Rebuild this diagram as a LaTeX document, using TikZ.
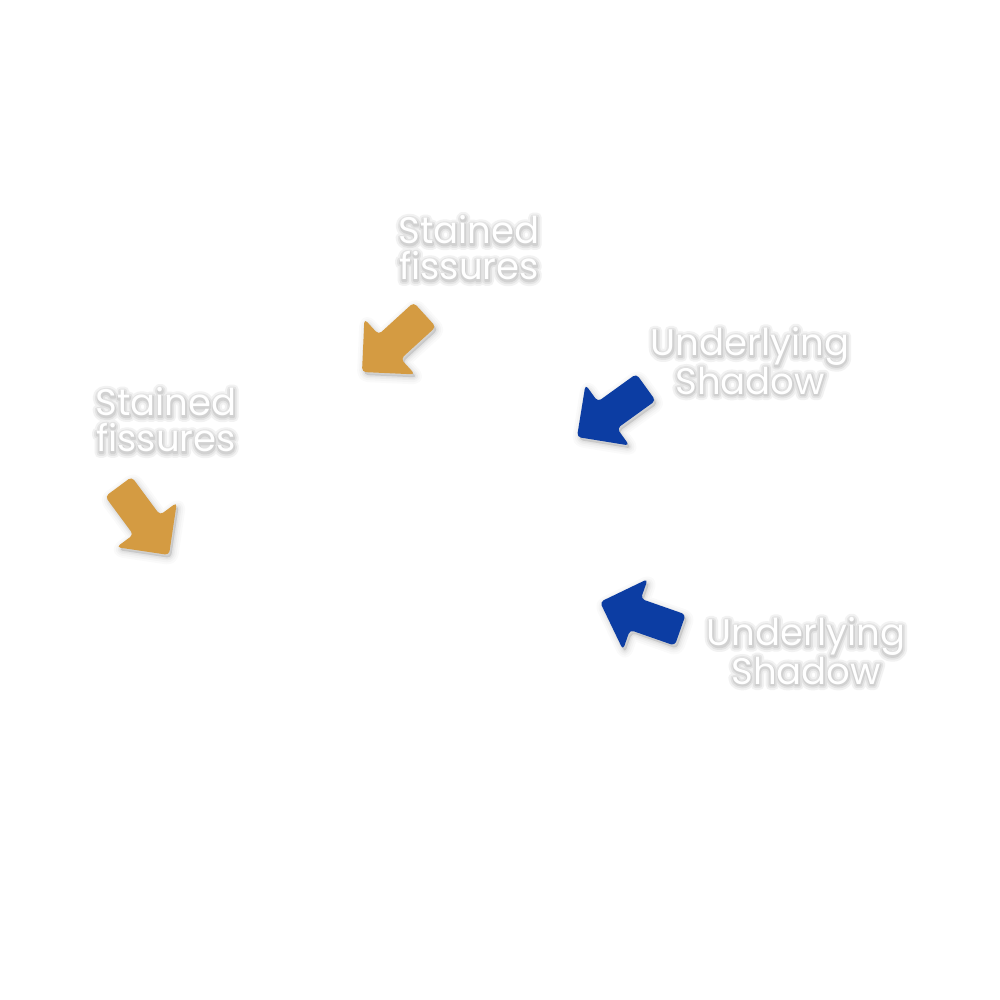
\documentclass[tikz,border=0pt]{standalone}
\usepackage{fontspec}
\setmainfont{Poppins}
\definecolor{orng}{RGB}{212,155,66}
\definecolor{blu}{RGB}{12,61,163}
\definecolor{gA}{gray}{0.95}
\definecolor{gB}{gray}{0.89}
\definecolor{gC}{gray}{0.82}
\tikzset{
  lbl/.style={text=white, align=center, font=\fontsize{37}{36}\selectfont, inner sep=0pt},
}
\newcommand\arwpath{(0,0) -- (-37.5,37.5) -- (-37.5,16.5) -- (-85,16.5) -- (-85,-16.5) -- (-37.5,-16.5) -- (-37.5,-37.5) -- cycle}
\newcommand\blockarrow[4]{%
  \foreach \w/\o in {14/0.02,10/0.025,6/0.03,3/0.035}{
    \begin{scope}[shift={(#1+2,#2-3)}, rotate=#3]
      \filldraw[black, opacity=\o, line width=\w pt, rounded corners=4pt, line join=round] \arwpath;
    \end{scope}}
  \begin{scope}[shift={(#1,#2)}, rotate=#3]
    \fill[#4, rounded corners=4pt] \arwpath;
  \end{scope}}
\newcommand\stk[3]{\special{pdf:code 2 Tr #1 w 1 j #2 #2 #2 RG}#3\special{pdf:code 0 Tr}}
\newcommand\glowlabel[5]{%
  \node[lbl, text=gA] (#1a) at (#2,#3-1) {\stk{10}{0.95}{#4}\\\stk{10}{0.95}{#5}};
  \node[lbl, text=gB] (#1b) at (#2,#3-1) {\stk{6}{0.89}{#4}\\\stk{6}{0.89}{#5}};
  \node[lbl, text=gC] (#1c) at (#2,#3-1) {\stk{2.5}{0.82}{#4}\\\stk{2.5}{0.82}{#5}};
  \node[lbl] (#1) at (#2,#3) {#4\\#5};}
\begin{document}
\begin{tikzpicture}[x=1pt,y=1pt]
  \fill[white] (0,0) rectangle (1000,1000);
  \useasboundingbox (0,0) rectangle (1000,1000);
  \blockarrow{362}{628}{222.4}{orng}
  \blockarrow{169}{445}{-53.5}{orng}
  \blockarrow{577}{563}{215.8}{blu}
  \blockarrow{600}{398}{160.7}{blu}
  \glowlabel{t1}{469}{752}{Stained}{fissures}
  \glowlabel{t2}{166}{580}{Stained}{fissures}
  \glowlabel{t3}{750}{639}{Underlying}{Shadow}
  \glowlabel{t4}{806}{349}{Underlying}{Shadow}
\end{tikzpicture}
\end{document}
